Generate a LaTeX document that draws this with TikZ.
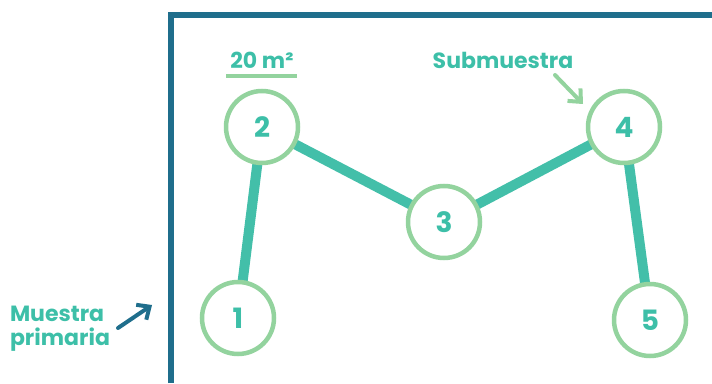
\documentclass[tikz,border=0pt]{standalone}
\usepackage{fontspec}
\setmainfont{Poppins}
\usepackage{color}
\usetikzlibrary{arrows.meta}
\definecolor{frameblue}{HTML}{1F6E8C}
\definecolor{ringgreen}{HTML}{93D39E}
\definecolor{linkteal}{HTML}{43BFA9}
\definecolor{textteal}{HTML}{3DBFA8}

\begin{document}
\begin{tikzpicture}[x=1pt,y=1pt,
	plot/.style={circle,draw=ringgreen,line width=4.5pt,fill=white,minimum size=72pt,
		inner sep=0pt,text=textteal,font=\fontsize{28}{28}\selectfont\bfseries},
	link/.style={draw=linkteal,line width=10pt},
	tag/.style={text=textteal,font=\fontsize{22}{24}\selectfont\bfseries}]
	\useasboundingbox (0,0) rectangle (712,383);
	% frame of the primary sample
	\draw[frameblue,line width=6pt] (171,0) -- (171,368) -- (712,368);
	% links between the subsamples
	\coordinate (p1) at (238,65);
	\coordinate (p2) at (262,256);
	\coordinate (p3) at (444,161);
	\coordinate (p4) at (624,256);
	\coordinate (p5) at (650,63);
	\draw[link] (p1) -- (p2) -- (p3) -- (p4) -- (p5);
	\node[plot] (s1) at (p1) {1};
	\node[plot] (s2) at (p2) {2};
	\node[plot] (s3) at (p3) {3};
	\node[plot] (s4) at (p4) {4};
	\node[plot] (s5) at (p5) {5};
	% labels
	\node[tag] (area) at (262,323) {20 m²};
	\draw[ringgreen,line width=4pt] (226,307) -- (297,307);
	\node[tag] (sub) at (503,323) {Submuestra};
	\coordinate (subtip) at (583,279);
	\draw[ringgreen,line width=4pt,line cap=round,-{Straight Barb[length=10pt,width=18pt]}] (555,308) -- (subtip);
	\node[tag,align=left] (prim) at (60,54) {Muestra\\primaria};
	\coordinate (primtip) at (152,78);
	\draw[frameblue,line width=4pt,line cap=round,-{Straight Barb[length=10pt,width=18pt]}] (118,55) -- (primtip);
\end{tikzpicture}
\end{document}
